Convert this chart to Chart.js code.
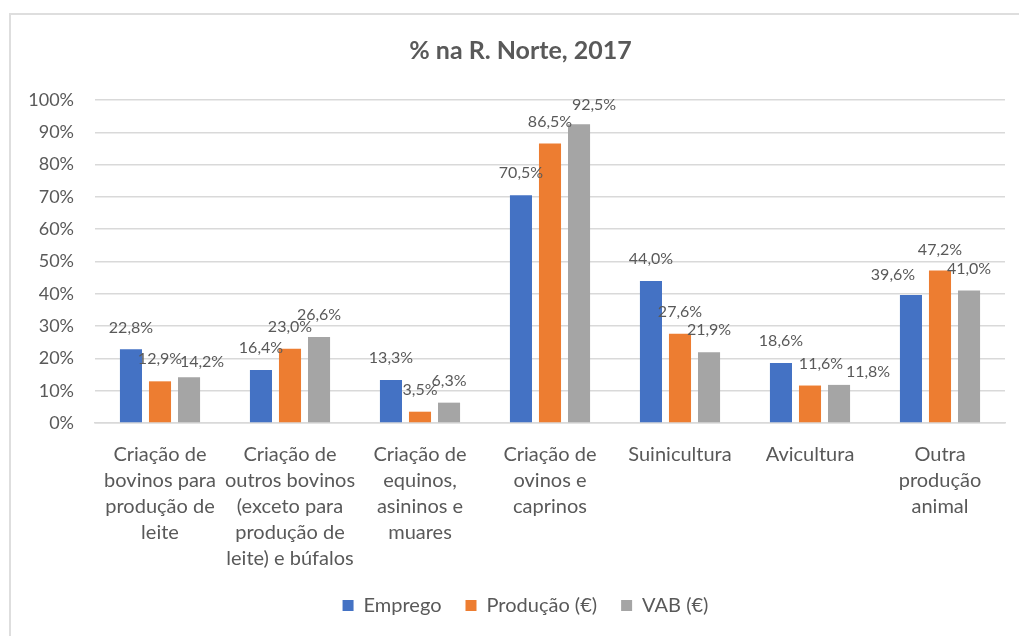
<!DOCTYPE html>
<html>
<head>
<meta charset="utf-8">
<script src="https://cdn.jsdelivr.net/npm/chart.js@4/dist/chart.umd.min.js"></script>
<style>
  html, body { margin: 0; padding: 0; background: #ffffff; overflow: hidden; }
  #frame { position: absolute; left: 9px; top: 13px; width: 1100px; height: 700px; border: 2px solid #dedede; box-sizing: border-box; }
  #wrap { position: absolute; left: 0; top: 0; width: 1019px; height: 636px; }
</style>
</head>
<body>
<div id="frame"></div>
<div id="wrap"><canvas id="c" width="1019" height="636"></canvas></div>
<script>
const categories = [
  ["Criação de", "bovinos para", "produção de", "leite"],
  ["Criação de", "outros bovinos", "(exceto para", "produção de", "leite) e búfalos"],
  ["Criação de", "equinos,", "asininos e", "muares"],
  ["Criação de", "ovinos e", "caprinos"],
  "Suinicultura",
  "Avicultura",
  ["Outra", "produção", "animal"]
];
const seriesNames = ["Emprego", "Produção (€)", "VAB (€)"];
const emprego  = [22.8, 16.4, 13.3, 70.5, 44.0, 18.6, 39.6];
const producao = [12.9, 23.0, 3.5, 86.5, 27.6, 11.6, 47.2];
const vab      = [14.2, 26.6, 6.3, 92.5, 21.9, 11.8, 41.0];
const yTicksMax = 100;
const yTickStep = 10;

const colors = ["#4472C4", "#ED7D31", "#A5A5A5"];
const textColor = "#595959";
const gridColor = "#d9d9d9";

// label nudges (series index -> category index -> [dx, dy]) relative to default position
const labelNudges = {
  0: { 6: [-18, 2] },
  1: { 5: [11, 0], 6: [0, 1] },
  2: { 0: [13, 7], 3: [15, 2.5], 5: [29, 8.5] }
};

const dataLabelPlugin = {
  id: 'dataLabels',
  afterDatasetsDraw(chart) {
    const ctx = chart.ctx;
    ctx.save();
    ctx.font = '16px Lato';
    ctx.fillStyle = textColor;
    ctx.textAlign = 'center';
    ctx.textBaseline = 'middle';
    chart.data.datasets.forEach((ds, di) => {
      const meta = chart.getDatasetMeta(di);
      meta.data.forEach((el, i) => {
        const v = ds.data[i];
        const n = (labelNudges[di] && labelNudges[di][i]) || [0, 0];
        const txt = v.toFixed(1).replace('.', ',') + '%';
        ctx.fillText(txt, el.x + n[0], el.y - 22 + n[1]);
      });
    });
    ctx.restore();
  }
};

// shift title / legend blocks horizontally to match the reference centring
const blockShiftPlugin = {
  id: 'blockShift',
  afterLayout(chart) {
    if (chart.legend) { chart.legend.left += 13; chart.legend.right += 13; }
    if (chart.titleBlock) { chart.titleBlock.left += 8; chart.titleBlock.right += 8; }
  }
};

new Chart(document.getElementById('c'), {
  type: 'bar',
  data: {
    labels: categories,
    datasets: [
      { label: seriesNames[0], data: emprego, backgroundColor: colors[0] },
      { label: seriesNames[1], data: producao, backgroundColor: colors[1] },
      { label: seriesNames[2], data: vab, backgroundColor: colors[2] }
    ]
  },
  options: {
    responsive: false,
    animation: false,
    devicePixelRatio: 1,
    layout: { padding: { left: 20, right: 14, top: 0, bottom: 10.5 } },
    datasets: { bar: { categoryPercentage: 0.67, barPercentage: 0.76 } },
    plugins: {
      title: {
        display: true,
        text: '% na R. Norte, 2017',
        color: textColor,
        font: { family: 'Lato', size: 25, weight: 'bold' },
        padding: { top: 36, bottom: 34 }
      },
      legend: {
        position: 'bottom',
        labels: {
          boxWidth: 11,
          boxHeight: 11,
          padding: 24,
          color: textColor,
          font: { family: 'Lato', size: 20 }
        }
      },
      tooltip: { enabled: false }
    },
    scales: {
      x: {
        grid: { display: false, drawTicks: false },
        border: { display: true, color: gridColor, width: 1.5 },
        ticks: {
          color: textColor,
          font: { family: 'Lato', size: 20, lineHeight: 26 / 20 },
          padding: 19,
          maxRotation: 0,
          autoSkip: false
        },
        afterFit(scale) { scale.height = 148.5; }
      },
      y: {
        min: 0,
        max: yTicksMax,
        grid: { color: gridColor, lineWidth: 1.5, drawTicks: false },
        border: { display: false },
        ticks: {
          stepSize: yTickStep,
          color: textColor,
          font: { family: 'Lato', size: 18 },
          padding: 21,
          callback: (v) => v + '%'
        },
        afterFit(scale) { scale.width = 75; }
      }
    }
  },
  plugins: [dataLabelPlugin, blockShiftPlugin]
});
</script>
</body>
</html>
